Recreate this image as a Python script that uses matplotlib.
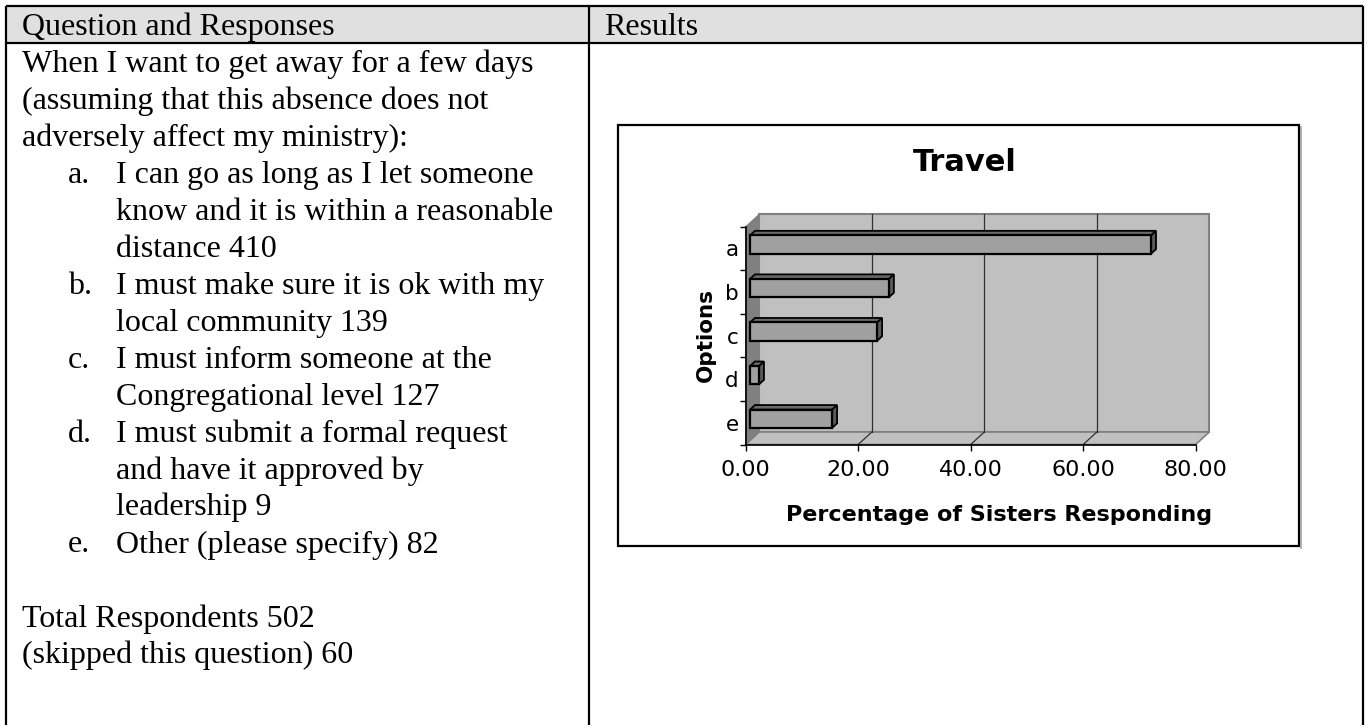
import matplotlib
matplotlib.use('Agg')
import matplotlib.pyplot as plt
from matplotlib.patches import Rectangle, Polygon
import numpy as np

# ---------------- data ----------------
categories = ['a', 'b', 'c', 'd', 'e']
percent = [71.3, 24.7, 22.6, 1.6, 14.6]
counts = [410, 139, 127, 9, 82]
xticks = [0, 20, 40, 60, 80]
xtick_labels = ['0.00', '20.00', '40.00', '60.00', '80.00']
chart_title = 'Travel'
xlabel = 'Percentage of Sisters Responding'
ylabel = 'Options'
header_left = 'Question and Responses'
header_right = 'Results'
question_lines = ['When I want to get away for a few days',
                  '(assuming that this absence does not',
                  'adversely affect my ministry):']
option_lines = [
    ['I can go as long as I let someone', 'know and it is within a reasonable', 'distance'],
    ['I must make sure it is ok with my', 'local community'],
    ['I must inform someone at the', 'Congregational level'],
    ['I must submit a formal request', 'and have it approved by', 'leadership'],
    ['Other (please specify)'],
]
total_respondents = 502
skipped = 60

# ---------------- figure ----------------
W, H = 1369, 725
fig = plt.figure(figsize=(W / 100, H / 100), dpi=100)
bg = fig.add_axes([0, 0, 1, 1])
bg.set_xlim(0, W)
bg.set_ylim(H, 0)
bg.axis('off')

serif = 'Liberation Serif'
fs_txt = 23
lw_tab = 1.6
col_x = 589

# table
bg.add_patch(Rectangle((6, 6), 1357, 37, facecolor='#e0e0e0', edgecolor='none', zorder=0))
for y in (6, 43):
    bg.plot([6, 1363], [y, y], color='black', lw=lw_tab, solid_capstyle='butt')
for x in (6, col_x, 1363):
    bg.plot([x, x], [6, H], color='black', lw=lw_tab, solid_capstyle='butt')

bg.text(22, 35, header_left, family=serif, fontsize=fs_txt, va='baseline', ha='left')
bg.text(col_x + 15, 35, header_right, family=serif, fontsize=fs_txt, va='baseline', ha='left')

y0, dl = 71.5, 37
line = 0
for t in question_lines:
    bg.text(22, y0 + line * dl, t, family=serif, fontsize=fs_txt, va='baseline')
    line += 1
for cat, lines, n in zip(categories, option_lines, counts):
    bg.text(68, y0 + line * dl, cat + '.', family=serif, fontsize=fs_txt, va='baseline')
    for i, t in enumerate(lines):
        if i == len(lines) - 1:
            t = f'{t} {n}'
        bg.text(116, y0 + line * dl, t, family=serif, fontsize=fs_txt, va='baseline')
        line += 1
line += 1
bg.text(22, y0 + line * dl, f'Total Respondents {total_respondents}', family=serif,
        fontsize=fs_txt, va='baseline')
line += 1
bg.text(22, y0 + line * dl, f'(skipped this question) {skipped}', family=serif,
        fontsize=fs_txt, va='baseline')

# chart box
bg.plot([1301, 1301], [127, 548], color='#a0a0a0', lw=1.2)
bg.add_patch(Rectangle((618, 125), 681, 421, facecolor='white', edgecolor='black', lw=1.6, zorder=1))

sans = 'DejaVu Sans'
bg.text(965, 162, chart_title, family=sans, fontsize=22, fontweight='bold', ha='center', va='center', zorder=5)
bg.text(999, 515, xlabel, family=sans, fontsize=16, fontweight='bold', ha='center', va='center', zorder=5)
bg.text(706, 335, ylabel, family=sans, fontsize=15.5, fontweight='bold', ha='center', va='center',
        rotation=90, zorder=5)

# ---------------- chart axes (front plane) ----------------
px_l, px_r, px_t, px_b = 745.7, 1195.7, 226.7, 444.5
ax = fig.add_axes([px_l / W, 1 - px_b / H, (px_r - px_l) / W, (px_b - px_t) / H])
ax.patch.set_visible(False)
ax.set_xlim(xticks[0], xticks[-1])
ax.set_ylim(-0.5, len(categories) - 0.5)
xmax = xticks[-1]
ncat = len(categories)

# depth offsets in data units
dx = 13.6 / (px_r - px_l) * xmax
dy = 12.5 / (px_b - px_t) * ncat

ylo, yhi = -0.5, ncat - 0.5
wall_c = '#c0c0c0'
edge_c = '#808080'
ax.add_patch(Polygon([(dx, ylo + dy), (xmax + dx, ylo + dy), (xmax + dx, yhi + dy), (dx, yhi + dy)],
                     closed=True, facecolor=wall_c, edgecolor=edge_c, lw=1.5, clip_on=False, zorder=0.5))
ax.add_patch(Polygon([(0, ylo), (dx, ylo + dy), (dx, yhi + dy), (0, yhi)],
                     closed=True, facecolor='#808080', edgecolor='#808080', lw=0.8, clip_on=False, zorder=0.6))
ax.add_patch(Polygon([(0, ylo), (xmax, ylo), (xmax + dx, ylo + dy), (dx, ylo + dy)],
                     closed=True, facecolor=wall_c, edgecolor=edge_c, lw=1.2, clip_on=False, zorder=0.6))
for t in xticks[1:-1]:
    ax.plot([t + dx, t + dx], [ylo + dy, yhi + dy], color='#303030', lw=0.9, clip_on=False, zorder=0.7)
    ax.plot([t, t + dx], [ylo, ylo + dy], color='#303030', lw=0.9, clip_on=False, zorder=0.7)

# bars (3D look)
ypos = np.arange(ncat)[::-1].astype(float)
vals = np.array(percent)
f, g, hgt = 0.32, 0.36, 0.42
yc = ypos + f * dy
x0 = f * dx
ax.barh(yc, vals, left=x0, height=hgt, color='#a0a0a0', edgecolor='black', lw=1.6, zorder=3)
for yb, v in zip(yc, vals):
    top = yb + hgt / 2
    bot = yb - hgt / 2
    ax.fill([x0, x0 + v, x0 + v + g * dx, x0 + g * dx], [top, top, top + g * dy, top + g * dy],
            facecolor='#6a6a6a', edgecolor='black', lw=1.3, zorder=2.9, clip_on=False)
    ax.fill([x0 + v, x0 + v + g * dx, x0 + v + g * dx, x0 + v], [bot, bot + g * dy, top + g * dy, top],
            facecolor='#5a5a5a', edgecolor='black', lw=1.3, zorder=2.9, clip_on=False)

# spines and ticks
for s in ('top', 'right'):
    ax.spines[s].set_visible(False)
for s in ('left', 'bottom'):
    ax.spines[s].set_color('black')
    ax.spines[s].set_linewidth(1.2)
    ax.spines[s].set_zorder(4)
ax.set_xticks(xticks)
ax.set_xticklabels(xtick_labels, family=sans, fontsize=16)
ax.tick_params(axis='x', direction='out', length=4, width=1, pad=7)
ax.set_yticks(ypos)
ax.set_yticklabels(categories, family=sans, fontsize=15.5)
ax.tick_params(axis='y', which='major', length=0, pad=5)
ax.set_yticks(np.arange(ncat + 1) - 0.5, minor=True)
ax.tick_params(axis='y', which='minor', direction='out', length=4, width=1)

fig.savefig('out.png', dpi=100)
